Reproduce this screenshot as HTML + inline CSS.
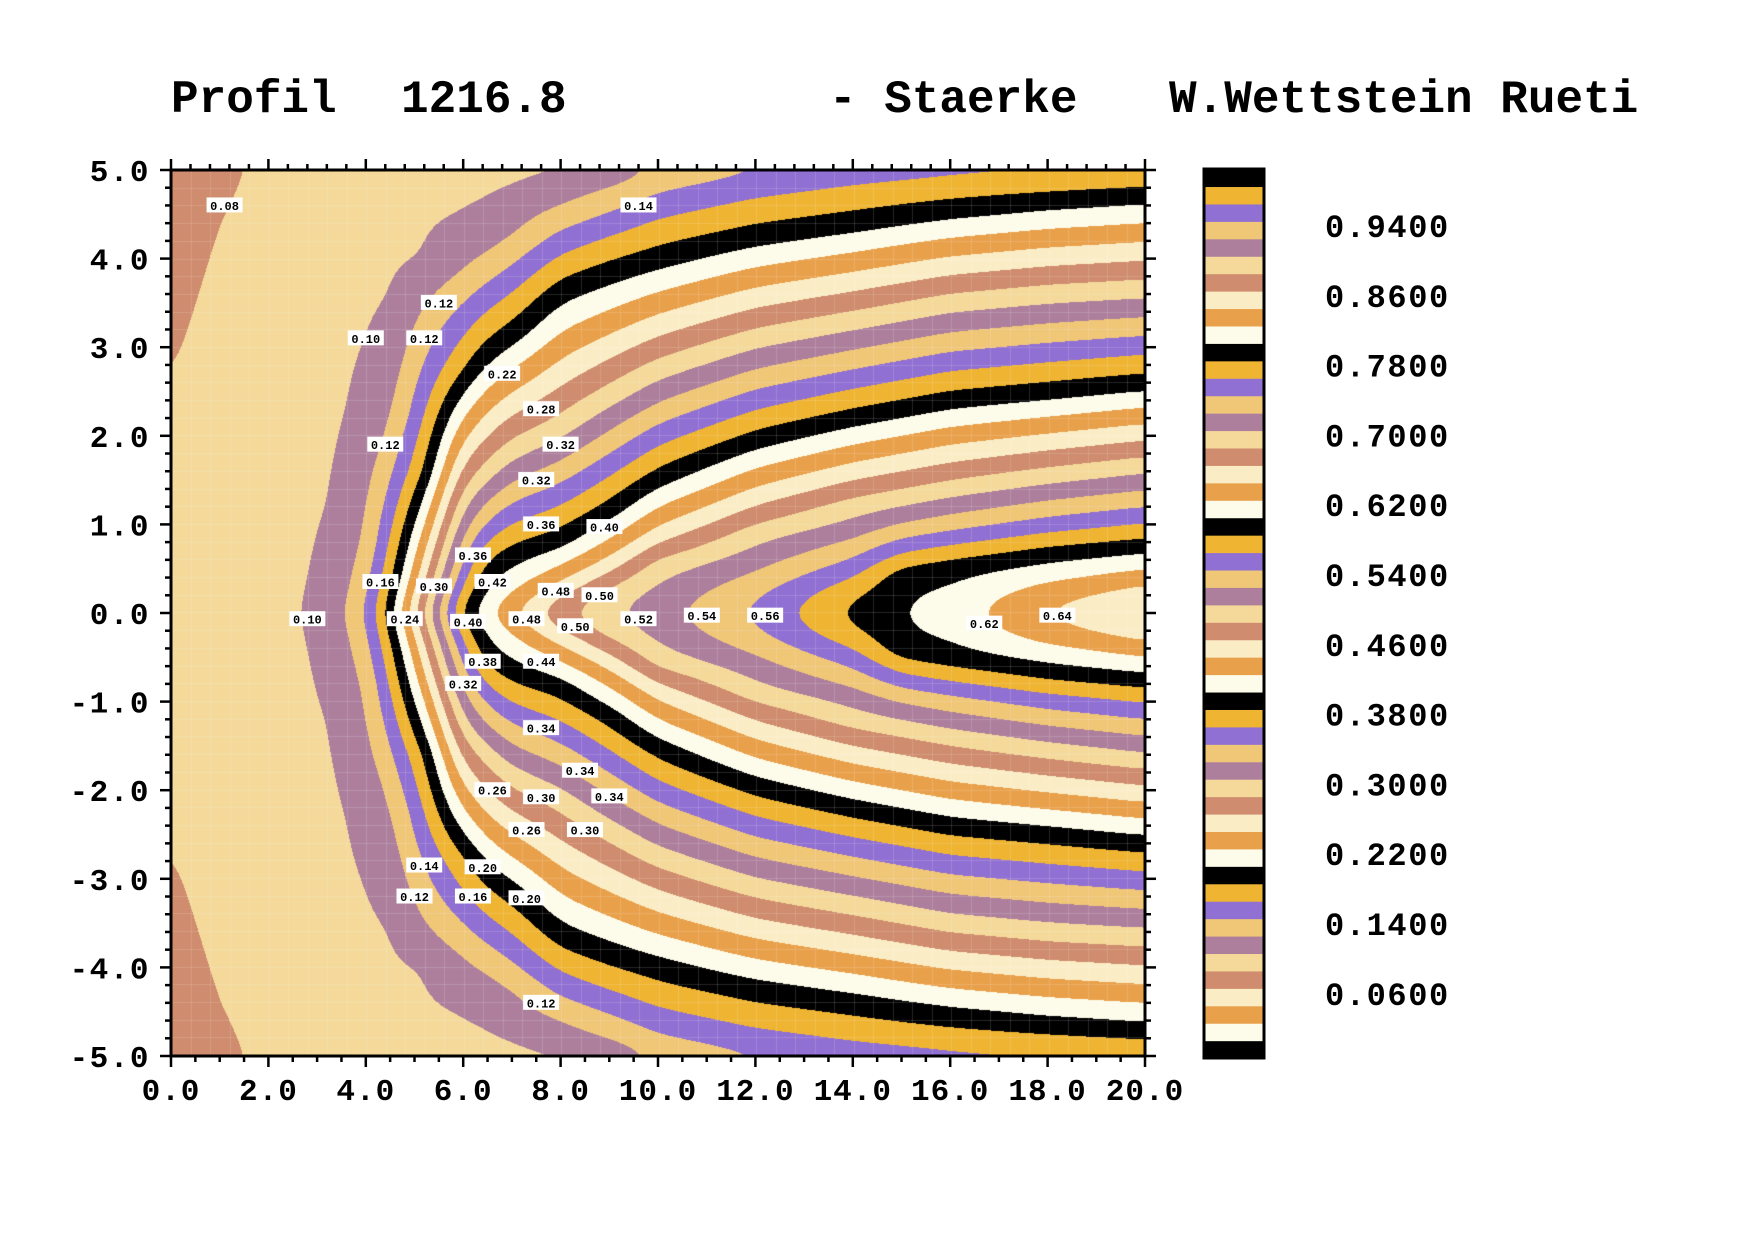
<!DOCTYPE html>
<html><head><meta charset="utf-8">
<style>
html,body{margin:0;padding:0;background:#fff;}
#wrap{position:relative;width:1754px;height:1239px;overflow:hidden;background:#fff;}
canvas{position:absolute;left:171px;top:170px;}
svg{position:absolute;left:0;top:0;}
text{font-family:"Liberation Mono",monospace;font-weight:bold;fill:#000;}
</style></head>
<body><div id="wrap">
<canvas id="c" width="974" height="886"></canvas>
<svg id="s" width="1754" height="1239" xmlns="http://www.w3.org/2000/svg">
<g font-size="46">
<text x="171" y="112">Profil</text>
<text x="401" y="112">1216.8</text>
<text x="829" y="112">- Staerke</text>
<text x="1169" y="112">W.Wettstein Rueti</text>
</g>
</svg>
</div>
<script>
var cols=[
[0,[[0,.102],[2.6,.09],[5,.082]]],
[1,[[0,.104],[4.4,.09],[5,.087]]],
[2,[[0,.106],[5,.093]]],
[2.8,[[0,.11],[5,.096]]],
[3.3,[[0,.122],[1.25,.11],[5,.098]]],
[3.63,[[0,.13],[2.3,.11],[5,.099]]],
[4.0,[[0,.15],[0.81,.13],[3.1,.11],[5,.10]]],
[4.41,[[0,.19],[1.92,.13],[3.52,.11],[5,.103]]],
[4.58,[[0,.21],[0.45,.19],[2.25,.13],[3.6,.11],[5,.104]]],
[5.2,[[0,.29],[1.6,.19],[3.47,.13],[4.01,.11],[5,.105]]],
[6.0,[[0,.396],[1.3,.30],[2.74,.19],[3.87,.13],[4.51,.11],[5,.106]]],
[6.5,[[0,.423],[0.5,.40],[1.6,.30],[2.95,.20],[4.05,.13],[4.65,.11],[5,.107]]],
[7,[[0,.445],[0.66,.40],[1.85,.30],[3.14,.20],[4.24,.13],[4.8,.11],[5,.107]]],
[8,[[0,.483],[0.83,.40],[2.1,.30],[3.64,.20],[4.6,.13],[5,.108]]],
[9,[[0,.504],[0.1,.50],[1.15,.40],[2.45,.30],[3.84,.20],[4.8,.13],[5,.115]]],
[10,[[0,.521],[0.45,.50],[1.52,.40],[2.75,.30],[4.0,.20],[5,.133]]],
[12,[[0,.553],[0.9,.50],[1.95,.40],[3.1,.30],[4.25,.20],[5,.148]]],
[14,[[0,.594],[1.2,.50],[2.2,.40],[3.3,.30],[4.4,.20],[5,.158]]],
[15,[[0,.609],[0.35,.60],[1.3,.50],[2.3,.40],[3.4,.30],[4.48,.20],[5,.161]]],
[16,[[0,.619],[0.45,.60],[1.4,.50],[2.4,.40],[3.5,.30],[4.55,.20],[5,.164]]],
[18,[[0,.65],[0.62,.60],[1.55,.50],[2.5,.40],[3.6,.30],[4.65,.20],[5,.167]]],
[20,[[0,.67],[0.73,.60],[1.67,.50],[2.6,.40],[3.66,.30],[4.72,.20],[5,.17]]]
];
var seq=[[0,0,0],[253,251,233],[233,160,74],[250,237,198],[207,140,110],[244,217,154],[173,127,156],[240,198,119],[144,112,210],[239,180,50]];
function prof(a,y){
 if(y<=a[0][0])return a[0][1];
 for(var i=0;i<a.length-1;i++){
  if(y<=a[i+1][0]){var t=(y-a[i][0])/(a[i+1][0]-a[i][0]);return a[i][1]+t*(a[i+1][1]-a[i][1]);}
 }
 return a[a.length-1][1];
}
function f(x,y){
 var e=0.12+0.2*Math.min(1,Math.max(0,(x-7)/3));
 var ay=Math.abs(y);
 if(ay<e)ay=(ay*ay/e+e)/2;
 ay-=e/2*Math.max(0,1-Math.abs(y)/(3*e));
 if(ay<0)ay=0;
 var i=0;
 while(i<cols.length-2 && x>cols[i+1][0])i++;
 var x0=cols[i][0],x1=cols[i+1][0],t=(x-x0)/(x1-x0);
 if(t<0)t=0;if(t>1)t=1;
 return prof(cols[i][1],ay)*(1-t)+prof(cols[i+1][1],ay)*t;
}
var c=document.getElementById('c'),ctx=c.getContext('2d');
var W=974,H=886,img=ctx.createImageData(W,H),d=img.data;
var F=new Float32Array(W*H),G=new Float32Array(W*H);
for(var py=0;py<H;py++){
 var Y=5-(py+0.5)/H*10;
 for(var px=0;px<W;px++){F[py*W+px]=f((px+0.5)/W*20,Y);}
}
function blurH(src,dst,r){
 for(var y=0;y<H;y++){
  var o=y*W,s=0,n=2*r+1;
  for(var k=-r;k<=r;k++)s+=src[o+Math.min(W-1,Math.max(0,k))];
  for(var x=0;x<W;x++){
   dst[o+x]=s/n;
   s+=src[o+Math.min(W-1,x+r+1)]-src[o+Math.max(0,x-r)];
  }
 }
}
function blurV(src,dst,r){
 for(var x=0;x<W;x++){
  var s=0,n=2*r+1;
  for(var k=-r;k<=r;k++)s+=src[Math.min(H-1,Math.max(0,k))*W+x];
  for(var y=0;y<H;y++){
   dst[y*W+x]=s/n;
   s+=src[Math.min(H-1,y+r+1)*W+x]-src[Math.max(0,y-r)*W+x];
  }
 }
}
for(var p=0;p<3;p++){blurH(F,G,10);blurV(G,F,7);}
for(var i=0;i<W*H;i++){
 var k=Math.round(F[i]/0.02);
 var col=seq[((k%10)+10)%10],o=i*4;
 d[o]=col[0];d[o+1]=col[1];d[o+2]=col[2];d[o+3]=255;
}
ctx.putImageData(img,0,0);
ctx.strokeStyle='rgba(255,255,255,0.15)';ctx.lineWidth=1;
for(var gx=0;gx<W;gx+=19.5){ctx.beginPath();ctx.moveTo(Math.round(gx)+0.5,0);ctx.lineTo(Math.round(gx)+0.5,H);ctx.stroke();}
for(var gy=0;gy<H;gy+=17.7){ctx.beginPath();ctx.moveTo(0,Math.round(gy)+0.5);ctx.lineTo(W,Math.round(gy)+0.5);ctx.stroke();}

var s=document.getElementById('s'),h='';
var L=171,R=1145,T=170,B=1056;
function xp(X){return L+X/20*(R-L);}
function yp(Y){return T+(5-Y)/10*(B-T);}
h+='<rect x="'+L+'" y="'+T+'" width="'+(R-L)+'" height="'+(B-T)+'" fill="none" stroke="#000" stroke-width="3"/>';
for(var i=0;i<=50;i++){
 var Y=5-i*0.2,y=yp(Y),maj=(i%5==0),len=maj?11:6;
 h+='<line x1="'+(L-len)+'" y1="'+y+'" x2="'+L+'" y2="'+y+'" stroke="#000" stroke-width="2.5"/>';
 h+='<line x1="'+R+'" y1="'+y+'" x2="'+(R+len)+'" y2="'+y+'" stroke="#000" stroke-width="2.5"/>';
 if(maj){var v=Math.round(Y);h+='<text x="150" y="'+(y+11)+'" font-size="31" text-anchor="end" letter-spacing="1.5">'+v.toFixed(1)+'</text>';}
}
for(var i=0;i<=40;i++){
 var X=i*0.5,x=xp(X),maj=(i%4==0),len=maj?11:6;
 h+='<line x1="'+x+'" y1="'+B+'" x2="'+x+'" y2="'+(B+len)+'" stroke="#000" stroke-width="2.5"/>';
 if(maj)h+='<text x="'+x+'" y="1100" font-size="31" text-anchor="middle" letter-spacing="1">'+X.toFixed(1)+'</text>';
}
for(var i=0;i<=50;i++){
 var x=xp(i*0.4),len=(i%5==0)?11:6;
 h+='<line x1="'+x+'" y1="'+(T-len)+'" x2="'+x+'" y2="'+T+'" stroke="#000" stroke-width="2.5"/>';
}
var cbT=169,cbB=1058,cbL=1204,cbR=1264,bh=(cbB-cbT)/51;
for(var k=0;k<=50;k++){
 var col=seq[k%10],y0=cbB-(k+1)*bh;
 h+='<rect x="'+cbL+'" y="'+y0.toFixed(2)+'" width="'+(cbR-cbL)+'" height="'+(bh+0.6).toFixed(2)+'" fill="rgb('+col.join(',')+')"/>';
}
h+='<rect x="'+cbL+'" y="'+cbT+'" width="'+(cbR-cbL)+'" height="'+(cbB-cbT)+'" fill="none" stroke="#000" stroke-width="3"/>';
var labs=['0.9400','0.8600','0.7800','0.7000','0.6200','0.5400','0.4600','0.3800','0.3000','0.2200','0.1400','0.0600'];
for(var i=0;i<labs.length;i++){
 h+='<text x="1325" y="'+(226+i*69.8+11).toFixed(1)+'" font-size="32" letter-spacing="1.6">'+labs[i]+'</text>';
}
var cl=[[0.08,1.1,4.6],[0.14,9.6,4.6],[0.12,5.5,3.5],[0.10,4.0,3.1],[0.12,5.2,3.1],[0.22,6.8,2.7],[0.28,7.6,2.3],[0.32,8.0,1.9],[0.12,4.4,1.9],[0.32,7.5,1.5],[0.36,7.6,1.0],[0.40,8.9,0.97],[0.36,6.2,0.65],[0.16,4.3,0.35],[0.30,5.4,0.3],[0.42,6.6,0.35],[0.48,7.9,0.25],[0.50,8.8,0.2],[0.10,2.8,-0.07],[0.24,4.8,-0.07],[0.40,6.1,-0.1],[0.48,7.3,-0.07],[0.50,8.3,-0.15],[0.52,9.6,-0.07],[0.54,10.9,-0.03],[0.56,12.2,-0.03],[0.62,16.7,-0.12],[0.64,18.2,-0.03],[0.38,6.4,-0.55],[0.44,7.6,-0.55],[0.32,6.0,-0.8],[0.34,7.6,-1.3],[0.34,8.4,-1.78],[0.26,6.6,-2.0],[0.30,7.6,-2.08],[0.34,9.0,-2.07],[0.26,7.3,-2.45],[0.30,8.5,-2.45],[0.14,5.2,-2.85],[0.20,6.4,-2.87],[0.12,5.0,-3.2],[0.16,6.2,-3.2],[0.20,7.3,-3.22],[0.12,7.6,-4.4]];
for(var i=0;i<cl.length;i++){
 var x=xp(cl[i][1]),y=yp(cl[i][2]);
 h+='<rect x="'+(x-18)+'" y="'+(y-8)+'" width="36" height="15" fill="#fff"/>';
 h+='<text x="'+x+'" y="'+(y+4.5)+'" font-size="12" text-anchor="middle">'+cl[i][0].toFixed(2)+'</text>';
}
s.insertAdjacentHTML('beforeend',h);
</script>
</body></html>
